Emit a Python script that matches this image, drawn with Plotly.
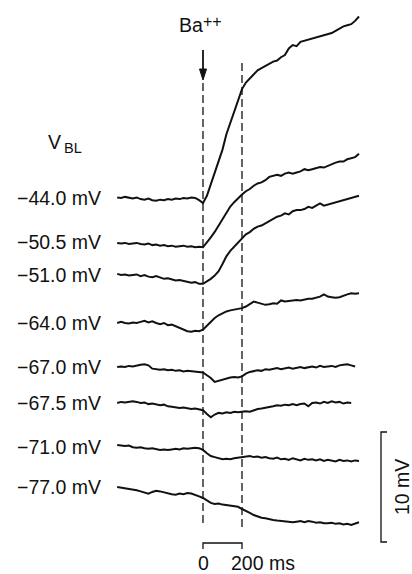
import plotly.graph_objects as go

# ---------------- data ----------------
T_MS = [-440, -420, -400, -380, -360, -340, -320, -300, -280, -260, -240, -220,
        -200, -180, -160, -140, -120, -100, -80, -60, -40, -20, 0,
        20, 40, 60, 80, 100, 120, 140, 160, 180, 200, 220, 240, 260, 280, 300,
        320, 340, 360, 380, 400, 420, 440, 460, 480, 500, 520, 540, 560, 580,
        600, 620, 640, 660, 680, 700, 720, 740, 760, 780, 800]

V_BL_LABELS = ["\u221244.0 mV", "\u221250.5 mV", "\u221251.0 mV", "\u221264.0 mV",
               "\u221267.0 mV", "\u221267.5 mV", "\u221271.0 mV", "\u221277.0 mV"]

# membrane potential change (mV) relative to each trace's baseline
tr_44_0 = [0.05, 0.0, 0.1, 0.0, -0.05, 0.05, -0.1, -0.15, -0.05, -0.2, -0.25, -0.15,
           -0.2, -0.1, -0.15, -0.05, -0.1, 0.0, -0.05, 0.05, 0.0, -0.2, -0.45,
           0.2, 1.2, 2.2, 3.3, 4.4, 5.8, 6.8, 7.7, 8.7, 9.9, 10.5, 10.9, 11.3, 11.6, 11.8,
           12.0, 12.2, 12.4, 12.5, 12.8, 13.0, 13.6, 13.9, 13.8, 14.2, 14.3, 14.4, 14.5, 14.6,
           14.75, 14.8, 14.9, 15.0, 15.2, 15.4, 15.6, 15.7, 15.8, 16.1, 16.5]
tr_50_5 = [0.1, 0.05, 0.1, 0.0, 0.05, 0.1, 0.0, -0.05, 0.05, -0.1, -0.05, -0.15,
           -0.1, -0.2, -0.15, -0.25, -0.2, -0.15, -0.25, -0.2, -0.3, -0.25, -0.3,
           0.1, 0.6, 1.1, 1.7, 2.3, 2.9, 3.4, 3.8, 4.2, 4.5, 4.8, 5.0, 5.3, 5.5, 5.6,
           5.8, 6.1, 6.2, 6.3, 6.2, 6.4, 6.5, 6.4, 6.5, 6.6, 6.8, 6.7, 6.8, 6.9,
           7.0, 6.95, 7.1, 7.3, 7.4, 7.5, 7.5, 7.7, 7.8, 7.9, 8.2]
tr_51_0 = [0.1, 0.0, 0.05, -0.05, 0.0, 0.05, -0.1, 0.0, -0.15, -0.2, -0.1, -0.2,
           -0.35, -0.3, -0.4, -0.5, -0.45, -0.55, -0.6, -0.7, -0.65, -0.8, -0.8,
           -0.6, -0.35, -0.05, 0.35, 1.0, 1.7, 2.2, 2.6, 3.0, 3.4, 3.7, 3.9, 4.2, 4.4, 4.5,
           4.7, 4.9, 5.1, 5.3, 5.4, 5.6, 5.5, 5.8, 5.9, 5.9, 6.0, 6.2, 6.1, 6.3,
           6.5, 6.3, 6.4, 6.5, 6.6, 6.7, 6.8, 6.9, 7.0, 7.1, 7.2]
tr_64_0 = [0.0, 0.1, 0.0, -0.05, 0.05, 0.0, 0.1, 0.2, 0.05, 0.15, 0.0, -0.1,
           0.0, -0.2, -0.15, -0.3, -0.4, -0.55, -0.75, -0.8, -0.7, -0.75, -0.6,
           -0.25, 0.15, 0.45, 0.7, 0.9, 1.05, 1.15, 1.2, 1.3, 1.35, 1.5, 1.75, 1.95, 1.85, 1.75,
           1.65, 1.7, 1.8, 1.75, 2.05, 1.95, 2.0, 2.05, 2.1, 2.05, 2.15, 2.2, 2.2, 2.3,
           2.4, 2.6, 2.4, 2.35, 2.3, 2.35, 2.5, 2.6, 2.7, 2.65, 2.7]
tr_67_0 = [0.0, 0.05, 0.0, 0.1, 0.05, 0.15, 0.2, 0.25, 0.15, -0.15, -0.2, -0.25,
           -0.2, -0.3, -0.25, -0.35, -0.3, -0.4, -0.35, -0.4, -0.45, -0.5, -0.5,
           -0.75, -1.0, -1.35, -1.25, -1.1, -1.0, -0.95, -0.9, -0.95, -0.85, -0.6, -0.45, -0.4, -0.3, -0.35,
           -0.2, -0.25, -0.15, -0.1, -0.2, -0.1, -0.05, -0.15, -0.05, 0.0, -0.1, 0.0, 0.05, -0.05,
           0.1, 0.0, 0.05, 0.1, 0.0, 0.15, 0.2, 0.25, 0.15, 0.05, None]
tr_67_5 = [0.0, 0.1, 0.05, 0.1, 0.15, 0.1, 0.0, 0.05, -0.1, -0.05, -0.15, -0.2,
           -0.15, -0.3, -0.35, -0.4, -0.45, -0.4, -0.5, -0.55, -0.5, -0.6, -0.65,
           -1.0, -1.3, -1.05, -0.9, -0.95, -0.85, -0.9, -0.8, -0.85, -0.8, -0.75, -0.8, -0.65, -0.55, -0.5,
           -0.45, -0.35, -0.3, -0.2, -0.25, -0.15, -0.2, -0.1, -0.2, -0.1, -0.05, -0.3, 0.0, 0.05,
           -0.05, 0.1, 0.0, 0.15, 0.05, 0.1, -0.05, 0.05, 0.0, None, None]
tr_71_0 = [0.0, -0.05, -0.1, -0.05, -0.2, -0.25, -0.2, -0.3, -0.35, -0.3, -0.4, -0.45,
           -0.4, -0.45, -0.4, -0.35, -0.4, -0.3, -0.35, -0.3, -0.25, -0.3, -0.45,
           -0.75, -1.0, -1.1, -1.2, -1.3, -1.25, -1.3, -1.2, -1.15, -1.1, -1.05, -1.0, -1.1, -1.05, -1.15,
           -1.1, -1.2, -1.25, -1.15, -1.3, -1.25, -1.35, -1.2, -1.3, -1.4, -1.25, -1.35, -1.3, -1.4,
           -1.3, -1.45, -1.35, -1.4, -1.5, -1.35, -1.45, -1.4, -1.5, -1.4, -1.45]
tr_77_0 = [0.0, -0.05, -0.15, -0.2, -0.25, -0.3, -0.4, -0.5, -0.6, -0.45, -0.35, -0.4,
           -0.5, -0.55, -0.65, -0.7, -0.6, -0.65, -0.55, -0.6, -0.7, -0.85, -1.0,
           -1.25, -1.45, -1.55, -1.5, -1.6, -1.65, -1.7, -1.75, -1.8, -2.0, -2.15, -2.35, -2.55, -2.7, -2.8,
           -2.85, -2.95, -3.0, -3.05, -3.1, -3.15, -3.2, -3.2, -3.15, -3.1, -3.2, -3.1, -3.15, -3.25,
           -3.2, -3.3, -3.3, -3.25, -3.35, -3.3, -3.4, -3.35, -3.45, -3.3, -3.2]

TRACES = [tr_44_0, tr_50_5, tr_51_0, tr_64_0, tr_67_0, tr_67_5, tr_71_0, tr_77_0]
for tr in TRACES:
    assert len(tr) == len(T_MS), len(tr)

# ---------------- layout (positions/styles) ----------------
W, H = 412, 574
PX_PER_MS = 0.195       # 200 ms = 39 px
PX_PER_MV = 11.0        # 10 mV = 110 px
X0_PX = 203             # pixel of t = 0
OFFSETS = [-198 / PX_PER_MV, -244 / PX_PER_MV, -275 / PX_PER_MV, -323 / PX_PER_MV,
           -367 / PX_PER_MV, -403 / PX_PER_MV, -445 / PX_PER_MV, -487 / PX_PER_MV]
LABEL_Y = [-198 / PX_PER_MV, -242 / PX_PER_MV, -275 / PX_PER_MV, -323 / PX_PER_MV,
           -367 / PX_PER_MV, -403 / PX_PER_MV, -447 / PX_PER_MV, -487 / PX_PER_MV]


def px2t(px):
    return (px - X0_PX) / PX_PER_MS


def py2v(py):
    return -py / PX_PER_MV


FONT = "Liberation Sans, Arial, Helvetica, sans-serif"
FS = 19.5
FS_SMALL = 14.5
INK = "#111111"

fig = go.Figure()
for tr, off in zip(TRACES, OFFSETS):
    fig.add_trace(go.Scatter(
        x=T_MS, y=[None if v is None else v + off for v in tr],
        mode="lines", line=dict(color=INK, width=2.0),
        connectgaps=False, showlegend=False, hoverinfo="skip"))

DASH = "8px,4px"
shapes = []
shapes.append(dict(type="line", xref="x", yref="y", x0=0, x1=0,
                   y0=py2v(83), y1=py2v(527),
                   line=dict(color=INK, width=1.3, dash=DASH)))
shapes.append(dict(type="line", xref="x", yref="y", x0=200, x1=200,
                   y0=py2v(63), y1=py2v(527),
                   line=dict(color=INK, width=1.3, dash=DASH)))
# Ba++ application arrow
shapes.append(dict(type="line", xref="x", yref="y", x0=0, x1=0,
                   y0=py2v(50), y1=py2v(72),
                   line=dict(color=INK, width=1.8)))
shapes.append(dict(type="path", xref="x", yref="y",
                   path=f"M {px2t(199.5)} {py2v(69)} L {px2t(206.5)} {py2v(69)} "
                        f"L 0 {py2v(80)} Z",
                   fillcolor=INK, line=dict(color=INK, width=1)))
# time scale bar 0-200 ms
bar_y = py2v(543)
tick_y = py2v(549)
shapes.append(dict(type="path", xref="x", yref="y",
                   path=f"M 0 {tick_y} L 0 {bar_y} L 200 {bar_y} L 200 {tick_y}",
                   line=dict(color=INK, width=1.3)))
# voltage scale bar 10 mV
vx = px2t(381)
vtick = px2t(387)
vtop = py2v(432)
vbot = vtop - 10
shapes.append(dict(type="path", xref="x", yref="y",
                   path=f"M {vtick} {vtop} L {vx} {vtop} L {vx} {vbot} L {vtick} {vbot}",
                   line=dict(color=INK, width=1.3)))


def text(x_px, y_px, s, size=FS, anchor="center", angle=0):
    return dict(x=px2t(x_px), y=py2v(y_px), xref="x", yref="y", text=s,
                showarrow=False, xanchor=anchor, yanchor="middle", textangle=angle,
                font=dict(family=FONT, size=size, color=INK))


ann = []
for lab, ly in zip(V_BL_LABELS, LABEL_Y):
    ann.append(dict(x=px2t(103), y=ly, xref="x", yref="y", text=lab, showarrow=False,
                    xanchor="right", yanchor="middle",
                    font=dict(family=FONT, size=FS, color=INK)))
ann.append(text(46, 142, "V", anchor="left"))
ann.append(text(62, 148, "BL", size=FS_SMALL, anchor="left"))
ann.append(text(205, 25, "Ba", anchor="right"))
ann.append(text(201, 21, "++", size=16, anchor="left"))
ann.append(text(203, 563, "0"))
ann.append(text(297, 563, "200 ms", anchor="right"))
ann.append(dict(x=px2t(402), y=vtop - 5, xref="x", yref="y", text="10 mV",
                showarrow=False, textangle=-90, xanchor="center", yanchor="middle",
                font=dict(family=FONT, size=FS, color=INK)))

fig.update_layout(
    width=W, height=H, margin=dict(l=0, r=0, t=0, b=0),
    paper_bgcolor="white", plot_bgcolor="white",
    xaxis=dict(range=[px2t(0), px2t(W)], visible=False, fixedrange=True),
    yaxis=dict(range=[py2v(H), 0], visible=False, fixedrange=True),
    shapes=shapes, annotations=ann, showlegend=False,
)

fig.write_html("out.html")
